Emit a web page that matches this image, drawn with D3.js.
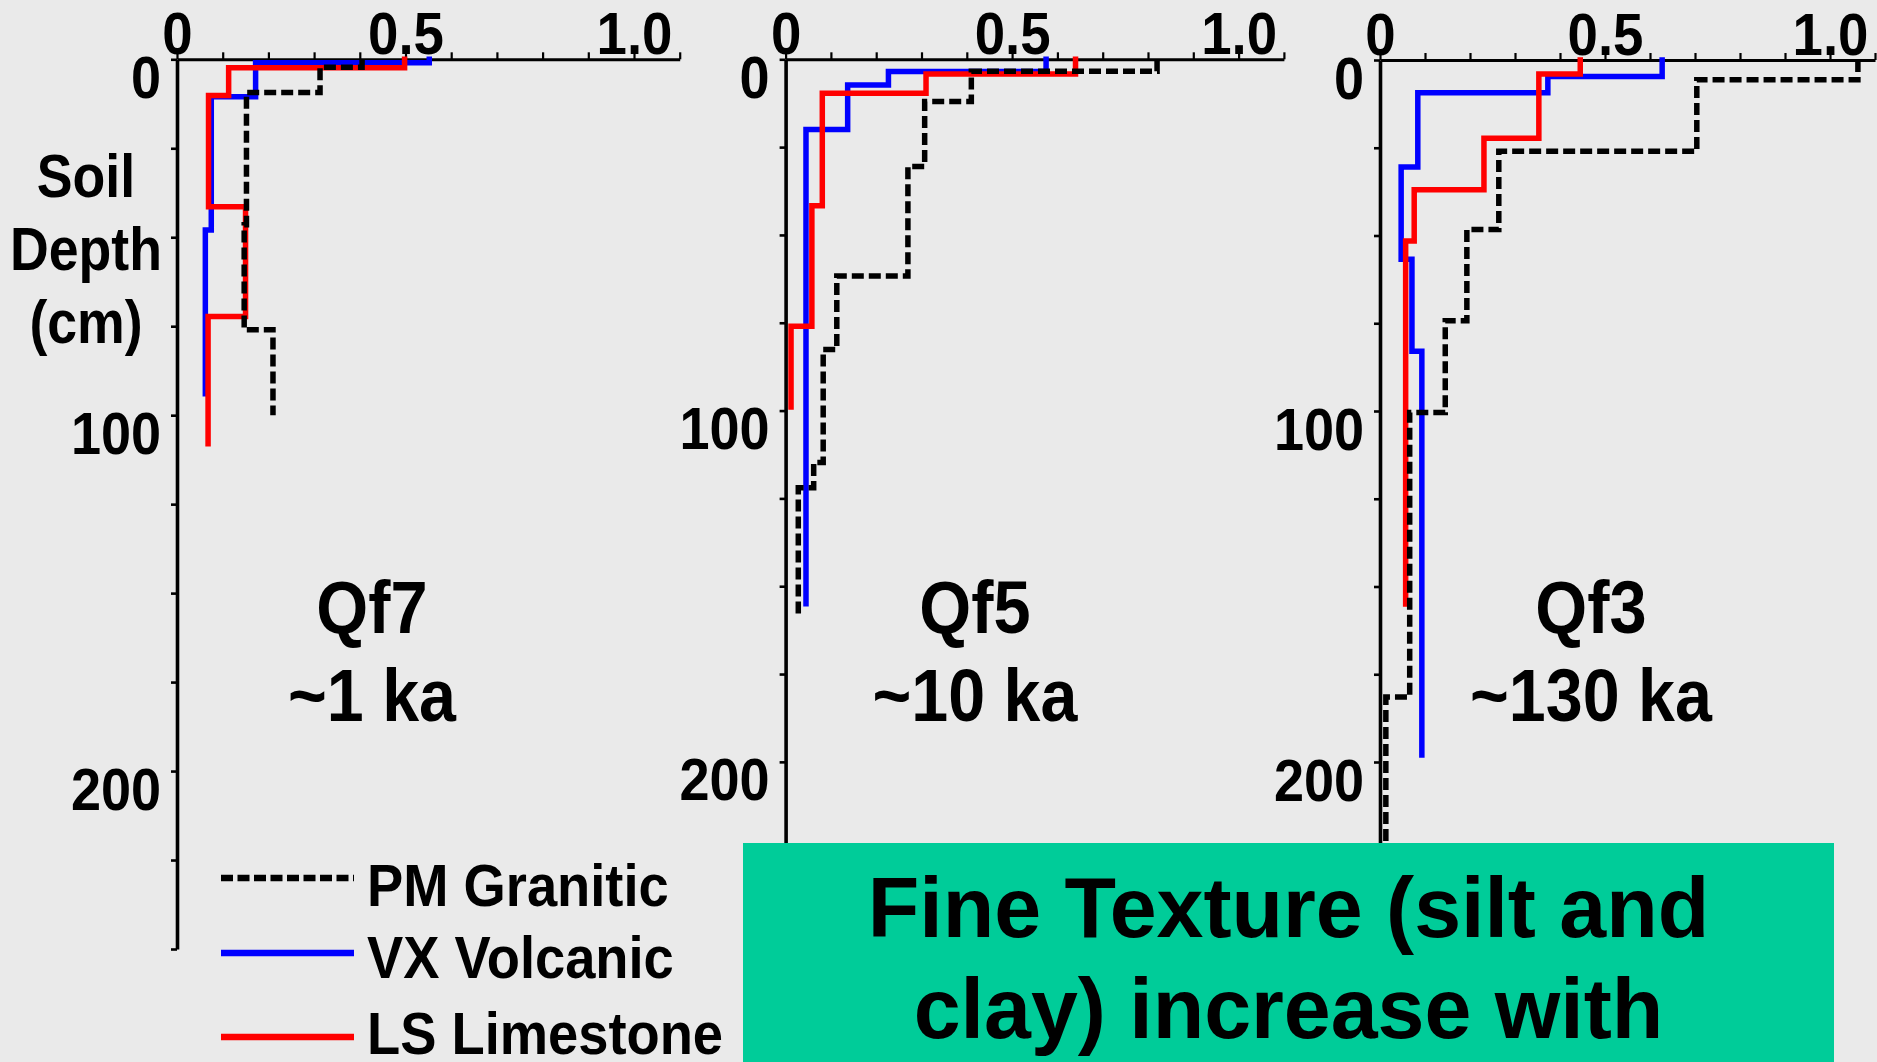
<!DOCTYPE html>
<html><head><meta charset="utf-8">
<script src="https://cdn.jsdelivr.net/npm/d3@7/dist/d3.min.js"></script>
<style>html,body{margin:0;padding:0;background:#eaeaea;overflow:hidden}
text{font-family:"Liberation Sans",Arial,sans-serif;font-weight:bold;fill:#000}</style>
</head><body><svg id="c" width="1877" height="1062"></svg>
<script>
// ---------- data ----------
const panelNames = ["Qf7", "Qf5", "Qf3"];
const panelAges = ["~1 ka", "~10 ka", "~130 ka"];
const seriesNames = ["PM Granitic", "VX Volcanic", "LS Limestone"];
const xLabelValues = [0, 0.5, 1.0];
const xTickLabels = ["0", "0.5", "1.0"];
const depthLabelValues = [0, 100, 200];
const depthTickLabels = ["0", "100", "200"];
const yTitleLines = ["Soil", "Depth", "(cm)"];
const boxLines = ["Fine Texture (silt and", "clay) increase with"];

// Qf7 (~1 ka): horizon boundary depths (cm) and fine fraction per horizon
const qf7PMDepth = [0, 2.2, 9.3, 46.5, 76, 100];
const qf7PMValue = [0.405, 0.313, 0.152, 0.147, 0.21];
const qf7VXDepth = [0, 1, 10.5, 48, 94];
const qf7VXValue = [0.552, 0.172, 0.075, 0.062];
const qf7LSDepth = [0, 2.4, 10.2, 41.4, 72.3, 108];
const qf7LSValue = [0.498, 0.113, 0.069, 0.15, 0.068];
// Qf5 (~10 ka)
const qf5PMDepth = [0, 3.4, 12, 30.5, 61.7, 82.6, 114.8, 122, 159];
const qf5PMValue = [0.82, 0.41, 0.307, 0.27, 0.113, 0.083, 0.062, 0.028];
const qf5VXDepth = [0, 3.5, 7.3, 20, 155];
const qf5VXValue = [0.575, 0.227, 0.137, 0.045];
const qf5LSDepth = [0, 4.2, 9.7, 41.7, 76, 99];
const qf5LSValue = [0.64, 0.31, 0.081, 0.058, 0.012];
// Qf3 (~130 ka)
const qf3PMDepth = [0, 5.6, 26, 48.3, 74.3, 100.4, 181.5, 250];
const qf3PMValue = [1.062, 0.704, 0.264, 0.193, 0.145, 0.066, 0.013];
const qf3VXDepth = [0, 4.7, 9.3, 30.5, 56.8, 83, 198];
const qf3VXValue = [0.627, 0.373, 0.084, 0.047, 0.071, 0.093];
const qf3LSDepth = [0, 4, 22.3, 37, 51.6, 155];
const qf3LSValue = [0.445, 0.353, 0.231, 0.076, 0.057];

const panelSeries = [
  [[qf7PMDepth, qf7PMValue], [qf7VXDepth, qf7VXValue], [qf7LSDepth, qf7LSValue]],
  [[qf5PMDepth, qf5PMValue], [qf5VXDepth, qf5VXValue], [qf5LSDepth, qf5LSValue]],
  [[qf3PMDepth, qf3PMValue], [qf3VXDepth, qf3VXValue], [qf3LSDepth, qf3LSValue]]
];

// ---------- layout / style ----------
const W = 1877, H = 1062;
const seriesColor = ["#000000", "#0000ff", "#ff0000"];
const seriesDash = ["12,5", null, null];
const drawOrder = [1, 2, 0];
const layout = [
  {x0: 177, x1: 679.7, y0: 59.3, y1: 949, titleX: 372},
  {x0: 785.6, x1: 1283.9, y0: 59.3, y1: 937.5, titleX: 975},
  {x0: 1380, x1: 1875, y0: 60, y1: 937.5, titleX: 1591}
];

const svg = d3.select("#c");
svg.append("rect").attr("width", W).attr("height", H).attr("fill", "#eaeaea");

function squeeze(sel, k) {
  sel.each(function () {
    const L = this.getComputedTextLength();
    if (L > 0) {
      this.setAttribute("textLength", L * k);
      this.setAttribute("lengthAdjust", "spacingAndGlyphs");
    }
  });
}

panelNames.forEach((name, p) => {
  const L = layout[p];
  const x = d3.scaleLinear().domain([0, 1.1]).range([L.x0, L.x1]);
  const y = d3.scaleLinear().domain([0, 250]).range([L.y0, L.y1]);
  const g = svg.append("g");

  // x axis (top)
  const xa = g.append("g").attr("transform", `translate(0,${L.y0})`)
    .call(d3.axisTop(x).tickValues(d3.range(12).map(i => i / 10))
      .tickSize(7).tickSizeOuter(0).tickPadding(-2)
      .tickFormat(d => {
        const j = xLabelValues.findIndex(v => Math.abs(v - d) < 1e-6);
        return j >= 0 ? xTickLabels[j] : "";
      }));
  xa.select(".domain").attr("stroke", "#000").attr("stroke-width", 3);
  xa.selectAll(".tick line").attr("stroke", "#000").attr("stroke-width", 2.2);
  const xt = xa.selectAll(".tick text").attr("font-size", 60).attr("fill", "#000")
    .attr("font-family", null);
  squeeze(xt, 0.91);

  // y axis (left)
  const ya = g.append("g").attr("transform", `translate(${L.x0},0)`)
    .call(d3.axisLeft(y).tickValues(d3.range(0, 251, 25))
      .tickSize(6).tickSizeOuter(0).tickPadding(10)
      .tickFormat(d => {
        const j = depthLabelValues.indexOf(d);
        return j >= 0 ? depthTickLabels[j] : "";
      }));
  ya.select(".domain").attr("stroke", "#000").attr("stroke-width", 3.6);
  ya.selectAll(".tick line").attr("stroke", "#000").attr("stroke-width", 2.6);
  const yt = ya.selectAll(".tick text").attr("font-size", 60).attr("fill", "#000")
    .attr("font-family", null).attr("dy", "0").attr("y", 38);
  squeeze(yt, 0.9);

  // profiles
  const line = d3.line().x(d => x(d[0])).y(d => y(d[1])).curve(d3.curveLinear);
  drawOrder.forEach(s => {
    const [dep, val] = panelSeries[p][s];
    const pts = [];
    val.forEach((v, i) => { pts.push([v, dep[i]]); pts.push([v, dep[i + 1]]); });
    g.append("path").attr("d", line(pts))
      .attr("fill", "none").attr("stroke", seriesColor[s])
      .attr("stroke-width", 5.5)
      .attr("stroke-linejoin", "miter")
      .attr("stroke-linecap", seriesDash[s] ? "butt" : "square")
      .attr("stroke-dasharray", seriesDash[s]);
  });

  // panel title
  const t1 = g.append("text").attr("x", L.titleX).attr("y", 633)
    .attr("text-anchor", "middle").attr("font-size", 75).text(name);
  const t2 = g.append("text").attr("x", L.titleX).attr("y", 721)
    .attr("text-anchor", "middle").attr("font-size", 75).text(panelAges[p]);
  squeeze(t1, 0.89); squeeze(t2, 0.885);
});

// y axis title
const yTitleBase = [197, 270, 343];
yTitleLines.forEach((s, i) => {
  const t = svg.append("text").attr("x", 86).attr("y", yTitleBase[i])
    .attr("text-anchor", "middle").attr("font-size", 62).text(s);
  squeeze(t, 0.865);
});

// legend
const legLineY = [878, 953, 1037];
const legTextY = [906, 978, 1054];
seriesNames.forEach((s, i) => {
  svg.append("line").attr("x1", 221).attr("x2", 354)
    .attr("y1", legLineY[i]).attr("y2", legLineY[i])
    .attr("stroke", seriesColor[i]).attr("stroke-width", 6.5)
    .attr("stroke-dasharray", seriesDash[i] ? "12,4.5" : null);
  const t = svg.append("text").attr("x", 367).attr("y", legTextY[i])
    .attr("font-size", 60).text(s);
  squeeze(t, 0.905);
});

// green note box
svg.append("rect").attr("x", 743).attr("y", 843).attr("width", 1091).attr("height", 240)
  .attr("fill", "#00cc99");
const boxBase = [937, 1038];
boxLines.forEach((s, i) => {
  const t = svg.append("text").attr("x", 1288.5).attr("y", boxBase[i])
    .attr("text-anchor", "middle").attr("font-size", 86).text(s);
  squeeze(t, 0.98);
});
</script></body></html>
